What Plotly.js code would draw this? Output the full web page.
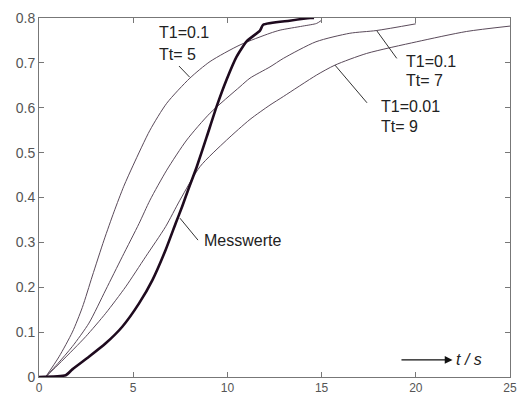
<!DOCTYPE html>
<html>
<head>
<meta charset="utf-8">
<script src="https://cdn.plot.ly/plotly-3.0.1.min.js"></script>
<style>html,body{margin:0;padding:0;background:#fff;}#chart{width:519px;height:396px;}</style>
</head>
<body>
<div id="chart"></div>
<script>
// Curve T1=0.1, Tt=5
const x_tt5 = [0.35, 1.06, 1.77, 2.3, 2.83, 3.45, 3.98, 4.5, 5.0, 5.89, 6.78, 8.01, 9.08, 10.67, 12.26, 12.8, 14.0, 14.74, 15.0];
const y_tt5 = [0, 0.045, 0.1, 0.155, 0.225, 0.305, 0.368, 0.425, 0.472, 0.55, 0.61, 0.666, 0.703, 0.74, 0.766, 0.773, 0.782, 0.788, 0.795];
// Curve T1=0.1, Tt=7
const x_tt7 = [0.35, 1.0, 1.77, 2.65, 3.54, 4.42, 5.31, 5.89, 6.78, 7.84, 9.08, 10.67, 11.2, 12.26, 12.97, 14.7, 16.5, 17.9, 20.0];
const y_tt7 = [0, 0.03, 0.068, 0.12, 0.194, 0.268, 0.342, 0.394, 0.461, 0.528, 0.588, 0.647, 0.666, 0.691, 0.71, 0.747, 0.766, 0.772, 0.787];
// Curve T1=0.01, Tt=9
const x_tt9 = [0.35, 1.2, 2.48, 3.54, 4.6, 5.66, 6.72, 7.48, 8.55, 9.96, 11.2, 12.26, 12.97, 14.74, 15.71, 17.39, 20.05, 22.7, 25.0];
const y_tt9 = [0, 0.035, 0.09, 0.142, 0.201, 0.268, 0.335, 0.394, 0.469, 0.528, 0.574, 0.606, 0.625, 0.673, 0.695, 0.721, 0.747, 0.77, 0.782];
// Messwerte (measured)
const x_mess = [0, 1.42, 1.77, 2.65, 3.54, 4.42, 5.31, 6.02, 6.72, 7.25, 7.6, 7.9, 8.37, 8.9, 9.43, 9.96, 10.49, 11.02, 11.73, 11.9, 13.3, 14.4, 14.6];
const y_mess = [0, 0.004, 0.017, 0.045, 0.075, 0.112, 0.164, 0.216, 0.283, 0.342, 0.38, 0.415, 0.468, 0.535, 0.603, 0.663, 0.714, 0.748, 0.772, 0.785, 0.794, 0.8, 0.8];

const xTicks = [0, 5, 10, 15, 20, 25];
const yTicks = [0, 0.1, 0.2, 0.3, 0.4, 0.5, 0.6, 0.7, 0.8];

const thin = {color: '#5a4a5a', width: 1, shape: 'spline', smoothing: 0.7};
const traces = [
  {x: x_tt5, y: y_tt5, mode: 'lines', line: thin, hoverinfo: 'skip'},
  {x: x_tt7, y: y_tt7, mode: 'lines', line: thin, hoverinfo: 'skip'},
  {x: x_tt9, y: y_tt9, mode: 'lines', line: thin, hoverinfo: 'skip'},
  {x: x_mess, y: y_mess, mode: 'lines', line: {color: '#1e0a1e', width: 2.6, shape: 'spline', smoothing: 0.5}, hoverinfo: 'skip'}
];

const txtFont = {family: 'Liberation Sans, Arial, sans-serif', size: 16, color: '#222'};
function lbl(x, y, t) {
  return {x: x, y: y, xref: 'x', yref: 'y', text: t, showarrow: false, xanchor: 'left', yanchor: 'middle', font: txtFont};
}
const annotations = [
  lbl(6.26, 0.768, 'T1=0.1'), lbl(6.26, 0.718, 'Tt= 5'),
  lbl(19.37, 0.704, 'T1=0.1'), lbl(19.37, 0.66, 'Tt= 7'),
  lbl(18.05, 0.603, 'T1=0.01'), lbl(18.05, 0.559, 'Tt= 9'),
  lbl(8.64, 0.305, 'Messwerte'),
  {x: 22.05, y: 0.038, xref: 'x', yref: 'y', text: '<i>t / s</i>', showarrow: false, xanchor: 'left', yanchor: 'middle', font: txtFont},
  {x: 21.95, y: 0.038, xref: 'x', yref: 'y', ax: 19.16, ay: 0.038, axref: 'x', ayref: 'y', text: '', showarrow: true, arrowhead: 2, arrowsize: 1.2, arrowwidth: 1.3, arrowcolor: '#111'}
];

function seg(x0, y0, x1, y1) {
  return {type: 'line', xref: 'x', yref: 'y', x0: x0, y0: y0, x1: x1, y1: y1, line: {color: '#333', width: 1}};
}
const shapes = [
  seg(7.43, 0.693, 8.0, 0.668),
  seg(17.92, 0.772, 18.99, 0.71),
  seg(15.71, 0.695, 17.41, 0.611),
  seg(7.48, 0.354, 8.44, 0.305)
];

const axisCommon = {
  showgrid: false, zeroline: false, showline: true, linecolor: '#777', linewidth: 1,
  mirror: 'ticks', ticks: 'inside', ticklen: 5, tickcolor: '#777', tickwidth: 1
};

const layout = {
  width: 519, height: 396,
  margin: {l: 39, r: 9, t: 18, b: 19},
  paper_bgcolor: '#fff', plot_bgcolor: '#fff',
  showlegend: false,
  xaxis: Object.assign({}, axisCommon, {range: [0, 25], tickvals: xTicks, ticktext: xTicks.map(String),
    ticklabelstandoff: 0,
    tickfont: {family: 'Liberation Sans, Arial, sans-serif', size: 12, color: '#555'}}),
  yaxis: Object.assign({}, axisCommon, {range: [0, 0.8], tickvals: yTicks, ticktext: yTicks.map(String),
    tickfont: {family: 'Liberation Sans, Arial, sans-serif', size: 14, color: '#555'}}),
  annotations: annotations,
  shapes: shapes
};

Plotly.newPlot('chart', traces, layout, {staticPlot: true, displayModeBar: false});
</script>
</body>
</html>
